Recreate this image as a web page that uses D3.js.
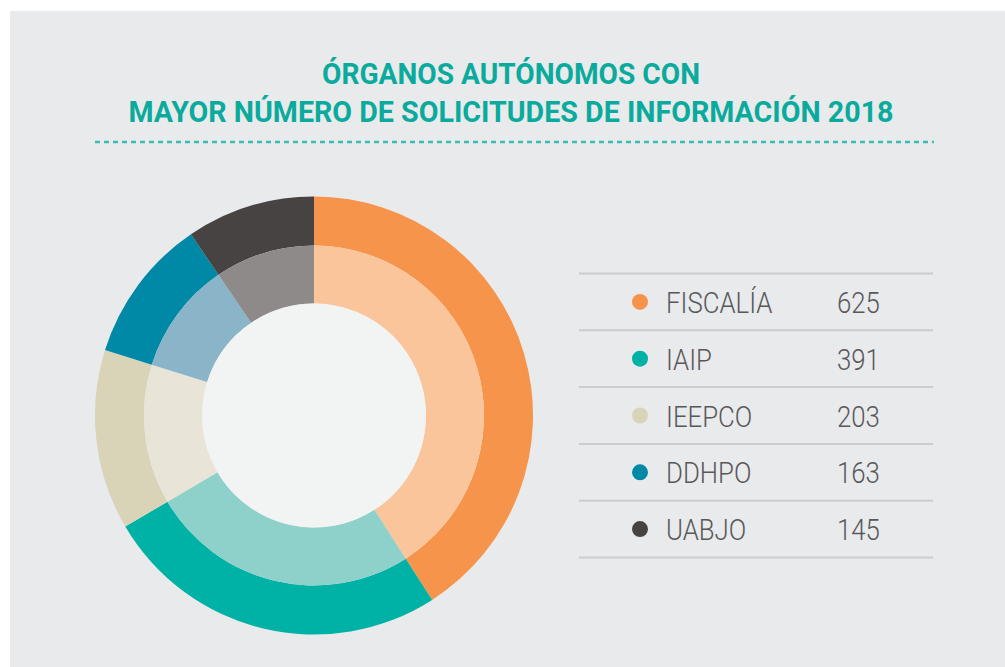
<!DOCTYPE html>
<html>
<head>
<meta charset="utf-8">
<script src="https://cdn.jsdelivr.net/npm/d3@7"></script>
<style>
  html, body { margin: 0; padding: 0; background: #ffffff; }
  svg { display: block; }
</style>
</head>
<body>
<div id="plot_div"></div>
<script>
const width  = 1005;
const height = 667;

// data
const organos  = ["FISCALÍA", "IAIP", "IEEPCO", "DDHPO", "UABJO"];
const valores  = [625, 391, 203, 163, 145];
const colores  = ["#f7944b", "#00b1a6", "#d9d3b8", "#0088a7", "#474343"];
const claros   = ["#fbc59b", "#8ed1cb", "#e8e5d8", "#8ab4c8", "#8e8a89"];
const titulo   = ["ÓRGANOS AUTÓNOMOS CON", "MAYOR NÚMERO DE SOLICITUDES DE INFORMACIÓN 2018"];

const svg = d3.create("svg")
      .attr("width", width)
      .attr("height", height)
      .attr("viewBox", [0, 0, width, height])

// gray panel
svg.append("rect")
    .attr("x", 10).attr("y", 11)
    .attr("width", width - 10).attr("height", height - 11)
    .attr("fill", "#e9eaec")

// title
const titleX = 511
const titleLen = [378, 765]
svg.append("g").selectAll("text")
    .data(titulo)
    .join("text")
    .attr("x", titleX)
    .attr("y", (d, i) => 84 + i * 37.5)
    .attr("text-anchor", "middle")
    .attr("textLength", (d, i) => titleLen[i])
    .attr("lengthAdjust", "spacingAndGlyphs")
    .attr("fill", "#0aab9d")
    .style("font-family", "Roboto, 'Open Sans', sans-serif")
    .style("font-weight", 700)
    .style("font-size", "29px")
    .text(d => d)

svg.append("line")
    .attr("x1", 95).attr("x2", 934)
    .attr("y1", 142).attr("y2", 142)
    .attr("stroke", "#3dbdb3")
    .attr("stroke-width", 2.5)
    .attr("stroke-dasharray", "5,4")

// -----------------------------------------//
// donut
// -----------------------------------------//
const cx = 314, cy = 415.5
const rOuter = 219, rMid = 170, rInner = 112

const pie = d3.pie().sort(null).value(d => d)
const arcs = pie(valores)

const ring = svg.append("g").attr("transform", `translate(${cx},${cy})`)

const arcOut = d3.arc().innerRadius(rMid).outerRadius(rOuter)
const arcIn  = d3.arc().innerRadius(rInner).outerRadius(rMid)

ring.selectAll("path.outer")
    .data(arcs)
    .join("path")
    .attr("class", "outer")
    .attr("d", arcOut)
    .attr("fill", (d, i) => colores[i])

ring.selectAll("path.inner")
    .data(arcs)
    .join("path")
    .attr("class", "inner")
    .attr("d", arcIn)
    .attr("fill", (d, i) => claros[i])

ring.append("circle")
    .attr("r", rInner)
    .attr("fill", "#f2f4f4")

// -----------------------------------------//
// legend table
// -----------------------------------------//
const rowH = 56.8
const y0 = 273.5
const row = d3.scaleBand()
      .domain(organos)
      .range([y0, y0 + rowH * organos.length])

const legend = svg.append("g")

legend.selectAll("line")
    .data(d3.range(organos.length + 1))
    .join("line")
    .attr("x1", 579).attr("x2", 933)
    .attr("y1", i => y0 + i * rowH).attr("y2", i => y0 + i * rowH)
    .attr("stroke", "#cbcccf")
    .attr("stroke-width", 2)

legend.selectAll("circle")
    .data(organos)
    .join("circle")
    .attr("cx", 640)
    .attr("cy", d => row(d) + row.bandwidth() / 2)
    .attr("r", 8)
    .attr("fill", (d, i) => colores[i])

legend.selectAll("text.name")
    .data(organos)
    .join("text")
    .attr("class", "name")
    .attr("x", 0)
    .attr("y", 0)
    .attr("transform", d => `translate(666,${row(d) + row.bandwidth() / 2 + 11}) scale(0.86,1)`)
    .attr("fill", "#58585a")
    .style("font-family", "Roboto, sans-serif")
    .style("font-weight", 300)
    .style("font-size", "30px")
    .text(d => d)

legend.selectAll("text.val")
    .data(valores)
    .join("text")
    .attr("class", "val")
    .attr("transform", (d, i) => `translate(837,${row(organos[i]) + row.bandwidth() / 2 + 11}) scale(0.86,1)`)
    .attr("fill", "#58585a")
    .style("font-family", "Roboto, sans-serif")
    .style("font-weight", 300)
    .style("font-size", "30px")
    .text(d => d)

plot_div.append(svg.node());
</script>
</body>
</html>
